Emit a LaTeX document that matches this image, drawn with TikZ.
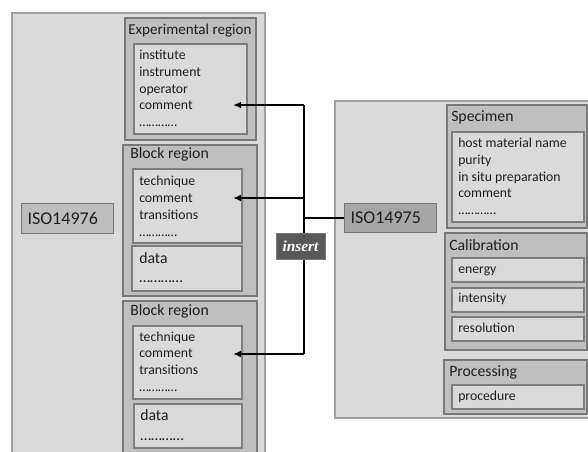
\documentclass[tikz,border=0pt]{standalone}
\usepackage{fontspec}
\setmainfont{Carlito}
\newfontfamily\insertfont{Liberation Serif}
\usetikzlibrary{arrows.meta}

\definecolor{outerfill}{RGB}{218,218,218}
\definecolor{outerline}{RGB}{160,160,160}
\definecolor{regfill}{RGB}{191,191,191}
\definecolor{regline}{RGB}{120,120,120}
\definecolor{itemfill}{RGB}{218,218,218}
\definecolor{itemline}{RGB}{125,125,125}
\definecolor{isofill}{RGB}{190,190,190}
\definecolor{isodark}{RGB}{166,166,166}
\definecolor{insfill}{RGB}{89,89,89}
\definecolor{txt}{RGB}{30,30,30}

\tikzset{
  outerbox/.style={draw=outerline, fill=outerfill, line width=0.8pt},
  regbox/.style={draw=regline, fill=regfill, line width=0.8pt},
  itembox/.style={draw=itemline, fill=itemfill, line width=0.8pt},
  title/.style={anchor=base west, inner sep=0pt, text=txt, font=\fontsize{11.8}{14}\selectfont},
  items/.style={anchor=base west, inner sep=0pt, align=left, text=txt, font=\fontsize{10.3}{12.5}\selectfont},
  isobox/.style={draw=regline, line width=0.8pt, anchor=west, inner xsep=4.5pt, inner ysep=0pt,
    text width=60pt, align=left, minimum height=22pt, text=txt, font=\fontsize{13.5}{16}\selectfont},
  link/.style={line width=1.5pt},
  arr/.style={link, -{Latex[length=6pt,width=5pt]}}
}

\begin{document}
\begin{tikzpicture}[x=0.75pt,y=0.75pt,yscale=-1,xscale=1]
\useasboundingbox (0,0) rectangle (588,452);

% ISO14976 side
\draw [outerbox] (12,13) rectangle (265,470);
\draw [regbox] (125,18) rectangle (256,140);
\draw [itembox] (134,44) rectangle (247,134);
\draw [regbox] (123,145) rectangle (257,296);
\draw [itembox] (133,169) rectangle (242,243);
\draw [itembox] (132,246) rectangle (242,291);
\draw [regbox] (123,301) rectangle (257,470);
\draw [itembox] (133,326) rectangle (242,399);
\draw [itembox] (134,404) rectangle (242,448);

% ISO14975 side
\draw [outerbox] (335,101) rectangle (600,418);
\draw [regbox] (447,105) rectangle (587,228);
\draw [itembox] (452,132) rectangle (584,222);
\draw [regbox] (445,233) rectangle (587,350);
\draw [itembox] (452,258) rectangle (584,282);
\draw [itembox] (452,288) rectangle (584,312);
\draw [itembox] (452,317) rectangle (584,341);
\draw [regbox] (444,360) rectangle (587,414);
\draw [itembox] (452,385) rectangle (584,409);

% Text Node (multi-line nodes sit on the baseline of their last line)
\node [isobox, fill=isofill] (iso76) at (21,218.5) {ISO14976};
\node [title, font=\fontsize{11.3}{14}\selectfont] (expT) at (128,35) {Experimental region};
\node [items] (expL) at (139,126.5) {institute\\instrument\\operator\\comment\\…………};
\node [title] (blkT1) at (130,159) {Block region};
\node [items] (blkL1) at (139,236) {technique\\comment\\transitions\\…………};
\node [title] (dat1) at (139,263) {data};
\node [title] (datD1) at (139,282) {…………};
\node [title] (blkT2) at (130,315) {Block region};
\node [items] (blkL2) at (139,391) {technique\\comment\\transitions\\…………};
\node [title] (dat2) at (140,420.5) {data};
\node [title] (datD2) at (140,440) {…………};

\node [isobox, fill=isodark] (iso75) at (344,218) {ISO14975};
\node [title] (specT) at (451,121.5) {Specimen};
\node [items] (specL) at (458,214.5) {host material name\\purity\\in situ preparation\\comment\\…………};
\node [title] (calT) at (449,250) {Calibration};
\node [items] (energy) at (458,273.5) {energy};
\node [items] (intens) at (458,302.5) {intensity};
\node [items] (resol) at (458,332.5) {resolution};
\node [title] (procT) at (449,376.5) {Processing};
\node [items] (proc) at (458,400.5) {procedure};

% connectors
\coordinate (jTop) at (304,105);
\coordinate (jMid) at (304,198);
\coordinate (jBot) at (304,354);
\coordinate (tip1) at (233,105);
\coordinate (tip2) at (233,198);
\coordinate (tip3) at (233,354);
\draw [link] (jTop) -- (jBot);
\draw [link] (iso75.west) -- (iso75.west -| jTop);
\draw [arr] (jTop) -- (tip1);
\draw [arr] (jMid) -- (tip2);
\draw [arr] (jBot) -- (tip3);

\node [fill=insfill, draw=regline, inner sep=0pt, minimum width=36.75pt, minimum height=19.5pt,
  text=white, font=\insertfont\bfseries\itshape\fontsize{11.5}{13}\selectfont] (ins) at (300.5,246) {insert};

\end{tikzpicture}
\end{document}
